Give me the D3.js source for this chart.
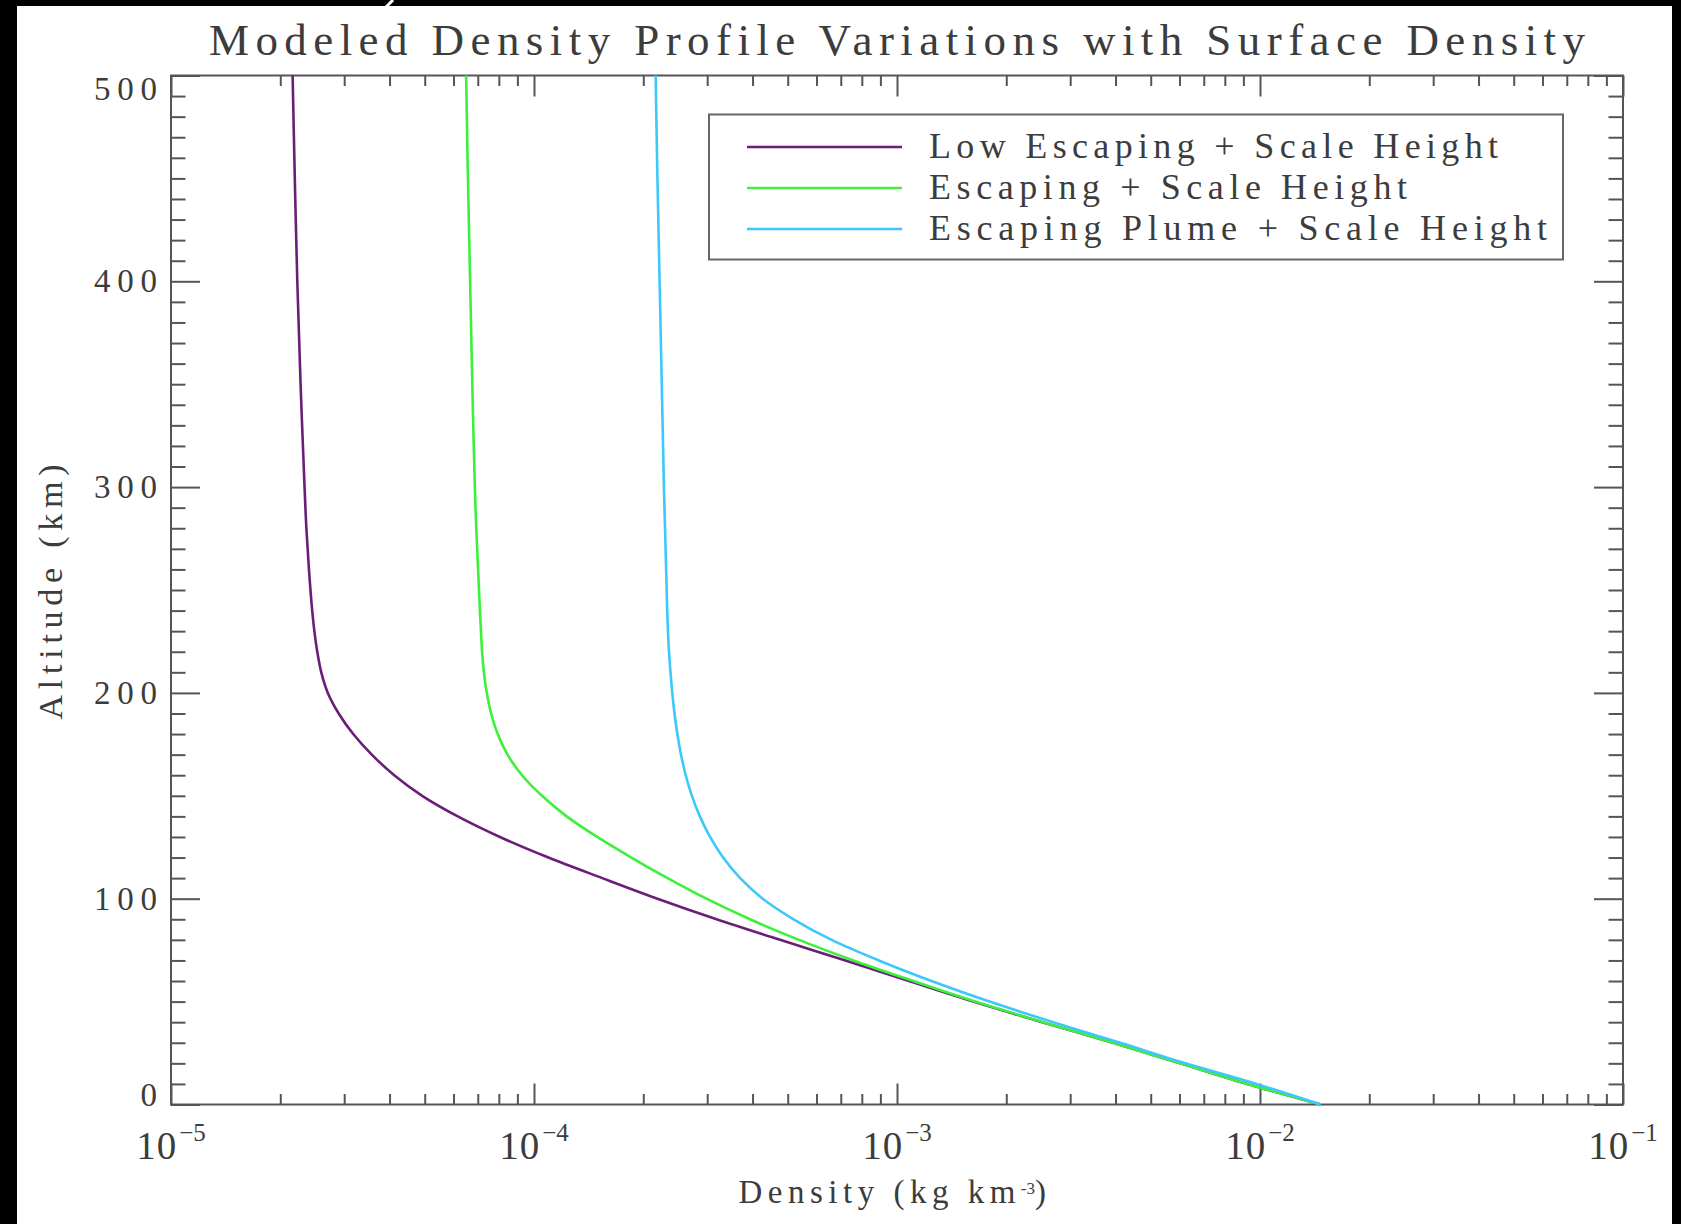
<!DOCTYPE html>
<html>
<head>
<meta charset="utf-8">
<script src="https://cdn.jsdelivr.net/npm/d3@7"></script>
<style>
  body { margin: 0; background: #fff; }
  svg { display: block; }
</style>
</head>
<body>
<div id="chart"></div>
<script>
// altitude grid (km) shared by all three profiles
const altitude = [0, 10, 20, 30, 40, 50, 60, 70, 80, 90, 100, 110, 120, 130, 140, 150,
  160, 170, 180, 190, 200, 210, 220, 230, 240, 260, 280, 300, 350, 400, 450, 500];

// density in kg km^-3
const lowEscaping = [1.469e-2, 9.226e-3, 6.026e-3, 3.936e-3, 2.512e-3, 1.622e-3, 1.079e-3,
  7.211e-4, 4.764e-4, 3.184e-4, 2.188e-4, 1.542e-4, 1.096e-4, 8.054e-5, 6.166e-5, 4.920e-5,
  4.121e-5, 3.573e-5, 3.177e-5, 2.897e-5, 2.704e-5, 2.594e-5, 2.529e-5, 2.483e-5, 2.449e-5,
  2.399e-5, 2.360e-5, 2.333e-5, 2.275e-5, 2.228e-5, 2.193e-5, 2.163e-5];
const escaping = [1.469e-2, 9.226e-3, 6.026e-3, 3.936e-3, 2.523e-3, 1.641e-3, 1.109e-3,
  7.586e-4, 5.370e-4, 3.936e-4, 2.985e-4, 2.333e-4, 1.854e-4, 1.493e-4, 1.230e-4, 1.052e-4,
  9.268e-5, 8.453e-5, 7.943e-5, 7.621e-5, 7.413e-5, 7.278e-5, 7.194e-5, 7.145e-5, 7.096e-5,
  7.015e-5, 6.934e-5, 6.871e-5, 6.761e-5, 6.668e-5, 6.577e-5, 6.501e-5];
const escapingPlume = [1.469e-2, 9.772e-3, 6.237e-3, 4.121e-3, 2.692e-3, 1.799e-3, 1.245e-3,
  8.913e-4, 6.607e-4, 5.188e-4, 4.266e-4, 3.698e-4, 3.319e-4, 3.055e-4, 2.864e-4, 2.723e-4,
  2.618e-4, 2.541e-4, 2.483e-4, 2.438e-4, 2.404e-4, 2.377e-4, 2.355e-4, 2.339e-4, 2.328e-4,
  2.312e-4, 2.296e-4, 2.280e-4, 2.249e-4, 2.218e-4, 2.188e-4, 2.163e-4];

const seriesNames = ['Low Escaping + Scale Height', 'Escaping + Scale Height', 'Escaping Plume + Scale Height'];
const seriesColors = ['#6a1e78', '#3cf03c', '#3cc8fa'];

const xTickValues = [1e-5, 1e-4, 1e-3, 1e-2, 1e-1];
const xTickExponents = ['\u22125', '\u22124', '\u22123', '\u22122', '\u22121'];
const yTickValues = [0, 100, 200, 300, 400, 500];

const width = 1681, height = 1224;
const plot = { left: 171, right: 1623, top: 75.5, bottom: 1104.5 };
const textColor = '#3c3c3c', axisColor = '#555';
const font = '"Liberation Serif", "Times New Roman", serif';

const svg = d3.select('#chart').append('svg')
  .attr('width', width)
  .attr('height', height)
  .style('font-family', font);

svg.append('rect').attr('width', width).attr('height', height).attr('fill', '#fff');

const x = d3.scaleLog().domain([1e-5, 1e-1]).range([plot.left, plot.right]);
const y = d3.scaleLinear().domain([0, 500]).range([plot.bottom, plot.top]);

// minor ticks
const xMinor = x.ticks().filter(v => !xTickValues.some(m => Math.abs(m - v) / m < 1e-6));
const yMinor = d3.range(0, 501, 10).filter(v => v % 100 !== 0);

function styleAxis(g) {
  g.select('.domain').remove();
  g.selectAll('.tick line').attr('stroke', axisColor).attr('stroke-width', 2);
  g.selectAll('.tick text').remove();
}

const xLen = 21, yLen = 29;
[[d3.axisBottom, plot.bottom], [d3.axisTop, plot.top]].forEach(([fn, pos]) => {
  svg.append('g').attr('transform', `translate(0,${pos})`)
    .call(fn(x).tickValues(xTickValues).tickSize(-xLen)).call(styleAxis);
  svg.append('g').attr('transform', `translate(0,${pos})`)
    .call(fn(x).tickValues(xMinor).tickSize(-xLen / 2)).call(styleAxis);
});
[[d3.axisLeft, plot.left], [d3.axisRight, plot.right]].forEach(([fn, pos]) => {
  svg.append('g').attr('transform', `translate(${pos},0)`)
    .call(fn(y).tickValues(yTickValues).tickSize(-yLen)).call(styleAxis);
  svg.append('g').attr('transform', `translate(${pos},0)`)
    .call(fn(y).tickValues(yMinor).tickSize(-yLen / 2)).call(styleAxis);
});

// frame
svg.append('rect')
  .attr('x', plot.left).attr('y', plot.top)
  .attr('width', plot.right - plot.left).attr('height', plot.bottom - plot.top)
  .attr('fill', 'none').attr('stroke', axisColor).attr('stroke-width', 2);

// curves
const line = d3.line()
  .x(d => x(d[1]))
  .y(d => y(d[0]))
  .curve(d3.curveCatmullRom.alpha(0.5));

[lowEscaping, escaping, escapingPlume].forEach((vals, i) => {
  svg.append('path')
    .datum(altitude.map((a, k) => [a, vals[k]]))
    .attr('fill', 'none')
    .attr('stroke', seriesColors[i])
    .attr('stroke-width', 2.6)
    .attr('d', line);
});

// y tick labels
svg.append('g').selectAll('text')
  .data(yTickValues)
  .enter().append('text')
  .attr('x', 157)
  .attr('y', d => d === 500 ? plot.top + 24 : d === 0 ? plot.bottom + 1.5 : y(d) + 11)
  .attr('text-anchor', 'end')
  .attr('fill', textColor)
  .style('font-size', '33px')
  .attr('textLength', d => String(d).length > 1 ? String(d).length * 21 : null)
  .attr('lengthAdjust', 'spacing')
  .text(d => d);

// x tick labels 10^n
const xl = svg.append('g').selectAll('text')
  .data(xTickValues)
  .enter().append('text')
  .attr('x', d => x(d))
  .attr('y', 1159)
  .attr('text-anchor', 'middle')
  .attr('fill', textColor)
  .style('font-size', '39px');
xl.append('tspan').text('10').style('letter-spacing', '1px');
xl.append('tspan')
  .attr('dx', 2)
  .attr('dy', -18)
  .style('font-size', '25px')
  .text((d, i) => xTickExponents[i]);

// title
svg.append('text')
  .attr('x', 209).attr('y', 55)
  .attr('fill', textColor)
  .style('font-size', '45px')
  .attr('textLength', 1376)
  .attr('lengthAdjust', 'spacing')
  .text('Modeled Density Profile Variations with Surface Density');

// axis titles
const xt = svg.append('text')
  .attr('x', 895).attr('y', 1203)
  .attr('text-anchor', 'middle')
  .attr('fill', textColor)
  .style('font-size', '33px')
  .style('letter-spacing', '5.5px');
xt.append('tspan').text('Density (kg km');
xt.append('tspan').attr('dy', -9).style('font-size', '17px').style('letter-spacing', '0px').text('-3');
xt.append('tspan').attr('dy', 9).text(')');

svg.append('text')
  .attr('transform', 'translate(62,592) rotate(-90)')
  .attr('text-anchor', 'middle')
  .attr('fill', textColor)
  .style('font-size', '34px')
  .attr('textLength', 255)
  .attr('lengthAdjust', 'spacing')
  .text('Altitude (km)');

// legend
const legend = svg.append('g');
legend.append('rect')
  .attr('x', 709).attr('y', 114.5)
  .attr('width', 854).attr('height', 145)
  .attr('fill', '#fff').attr('stroke', '#666').attr('stroke-width', 2);
const legendWidths = [569, 478, 618];
seriesNames.forEach((name, i) => {
  const ly = 147 + i * 41;
  legend.append('line')
    .attr('x1', 747).attr('x2', 902)
    .attr('y1', ly).attr('y2', ly)
    .attr('stroke', seriesColors[i]).attr('stroke-width', 2.6);
  legend.append('text')
    .attr('x', 929).attr('y', ly + 11)
    .attr('fill', textColor)
    .style('font-size', '36px')
    .attr('textLength', legendWidths[i])
    .attr('lengthAdjust', 'spacing')
    .text(name);
});

// black scan border
svg.append('rect').attr('x', 0).attr('y', 0).attr('width', 17).attr('height', height).attr('fill', '#000');
svg.append('rect').attr('x', 0).attr('y', 0).attr('width', width).attr('height', 6).attr('fill', '#000');
svg.append('rect').attr('x', 1672).attr('y', 0).attr('width', 9).attr('height', height).attr('fill', '#000');
svg.append('line')
  .attr('x1', 393).attr('y1', 0).attr('x2', 386).attr('y2', 7)
  .attr('stroke', '#fff').attr('stroke-width', 3);
</script>
</body>
</html>
